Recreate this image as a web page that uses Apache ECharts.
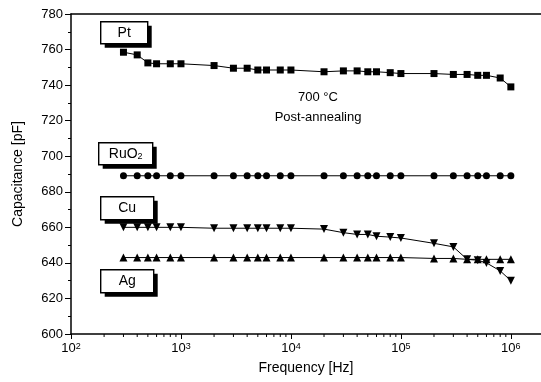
<!DOCTYPE html>
<html>
<head>
<meta charset="utf-8">
<script src="https://cdn.jsdelivr.net/npm/echarts@6/dist/echarts.min.js"></script>
<style>
  html, body { margin: 0; background: #fff; }
  #chart { width: 541px; height: 382px; }
</style>
</head>
<body>
<div id="chart"></div>
<script>
// frequencies in Hz
const freqs = [300, 400, 500, 600, 800, 1e3, 2e3, 3e3, 4e3, 5e3, 6e3, 8e3, 1e4,
  2e4, 3e4, 4e4, 5e4, 6e4, 8e4, 1e5, 2e5, 3e5, 4e5, 5e5, 6e5, 8e5, 1e6];

// capacitance [pF]
const pt = [758.5, 757, 752.5, 752, 752, 752, 751, 749.5, 749.5, 748.5, 748.5, 748.5, 748.5,
  747.5, 748, 748, 747.5, 747.5, 747, 746.5, 746.5, 746, 746, 745.5, 745.5, 744, 739];
const ruo2 = [689, 689, 689, 689, 689, 689, 689, 689, 689, 689, 689, 689, 689,
  689, 689, 689, 689, 689, 689, 689, 689, 689, 689, 689, 689, 689, 689];
const cu = [660, 660, 660, 660, 660, 660, 659.5, 659.5, 659.5, 659.5, 659.5, 659.5, 659.5,
  659, 657, 656, 656, 655, 654.5, 654, 651, 649, 642, 641.5, 640, 635.5, 630];
const ag = [643, 643, 643, 643, 643, 643, 643, 643, 643, 643, 643, 643, 643,
  643, 643, 643, 643, 643, 643, 643, 642.5, 642.5, 642, 642, 642, 642, 642];

const xMin = 100, xMax = 1.88e6;
// minor x ticks, 2..9 in each decade
const minorX = [];
[100, 1e3, 1e4, 1e5, 1e6].forEach(d => {
  for (let k = 2; k <= 9; k++) if (d * k <= xMax) minorX.push(d * k);
});

const font = 'Liberation Sans, Arial, sans-serif';

function lineSeries(name, vals, symbol, size, rotate) {
  return {
    type: 'line',
    name: name,
    data: freqs.map((f, i) => [f, vals[i]]),
    symbol: symbol,
    symbolSize: size,
    symbolRotate: rotate || 0,
    lineStyle: { color: '#000', width: 1 },
    itemStyle: { color: '#000' },
    animation: false
  };
}

function box(label, x, y, w, h) {
  return {
    type: 'group',
    left: x, top: y,
    children: [
      { type: 'rect', shape: { x: 4, y: 4, width: w, height: h }, style: { fill: '#000' } },
      { type: 'rect', shape: { x: 0, y: 0, width: w, height: h }, style: { fill: '#fff', stroke: '#000', lineWidth: 1.4 } },
      { type: 'text', x: w / 2, y: h / 2, style: {
          text: label, fontSize: 14, fontFamily: font, fill: '#000', align: 'center', verticalAlign: 'middle',
          rich: { sub: { fontSize: 9, verticalAlign: 'bottom', fontFamily: font } }
        } }
    ]
  };
}

const chart = echarts.init(document.getElementById('chart'));
chart.setOption({
  backgroundColor: '#fff',
  animation: false,
  grid: { left: 71, right: 0, top: 14, bottom: 48 },
  xAxis: [
    {
      type: 'log', logBase: 10, min: xMin, max: xMax,
      name: 'Frequency [Hz]', nameLocation: 'middle', nameGap: 27,
      nameTextStyle: { fontSize: 14, fontFamily: font, color: '#000' },
      axisLine: { lineStyle: { color: '#000', width: 1.5 } },
      axisTick: { length: 5, lineStyle: { color: '#000' } },
      splitLine: { show: false },
      axisLabel: {
        margin: 8, color: '#000', fontSize: 13, fontFamily: font, showMaxLabel: false,
        formatter: v => '10{sup|' + Math.round(Math.log10(v)) + '}',
        rich: { sup: { fontSize: 9, verticalAlign: 'top', fontFamily: font } }
      }
    },
    {
      type: 'log', logBase: 10, min: xMin, max: xMax, position: 'top',
      axisLine: { lineStyle: { color: '#000', width: 1.5 } },
      axisLabel: { show: false }, axisTick: { show: false }, splitLine: { show: false }
    }
  ],
  yAxis: {
    type: 'value', min: 600, max: 780, interval: 20,
    name: 'Capacitance [pF]', nameLocation: 'middle', nameGap: 46,
    nameTextStyle: { fontSize: 14, fontFamily: font, color: '#000' },
    axisLine: { show: true, lineStyle: { color: '#000', width: 1.5 } },
    axisTick: { show: true, length: 6, lineStyle: { color: '#000' } },
    minorTick: { show: true, splitNumber: 2, length: 3, lineStyle: { color: '#000' } },
    splitLine: { show: false },
    axisLabel: { margin: 8, color: '#000', fontSize: 13, fontFamily: font }
  },
  graphic: [
    box('Pt', 100, 21, 47, 22),
    box('RuO{sub|2}', 98, 142, 54, 22),
    box('Cu', 100, 196, 53, 23),
    box('Ag', 100, 269, 53, 23),
    { type: 'text', x: 318, y: 97, style: { text: '700 \u00B0C', fontSize: 13, fontFamily: font, fill: '#000', align: 'center', verticalAlign: 'middle' } },
    { type: 'text', x: 318, y: 117, style: { text: 'Post-annealing', fontSize: 13, fontFamily: font, fill: '#000', align: 'center', verticalAlign: 'middle' } }
  ],
  series: [
    // minor log ticks on the frequency axis
    {
      type: 'custom',
      silent: true,
      clip: false,
      xAxisIndex: 0,
      data: minorX.map(f => [f, 600]),
      renderItem: (params, api) => {
        const p = api.coord([api.value(0), api.value(1)]);
        return {
          type: 'line',
          shape: { x1: p[0], y1: p[1], x2: p[0], y2: p[1] + 3 },
          style: { stroke: '#000', lineWidth: 1 }
        };
      }
    },
    lineSeries('Pt', pt, 'rect', 7),
    lineSeries('RuO2', ruo2, 'circle', 7),
    lineSeries('Cu', cu, 'triangle', 8, 180),
    lineSeries('Ag', ag, 'triangle', 8)
  ]
});
</script>
</body>
</html>
